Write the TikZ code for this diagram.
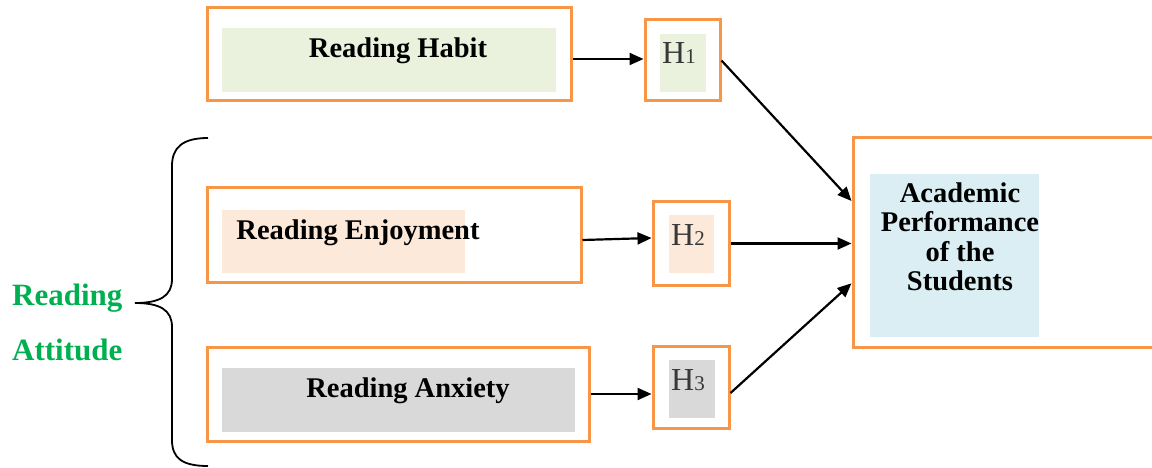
\documentclass[tikz,border=0pt]{standalone}
\usepackage{fontspec}
\setmainfont{Liberation Serif}
\usepackage{tikz}
\usetikzlibrary{arrows.meta}
\definecolor{boxline}{HTML}{F79646}
\definecolor{habitfill}{HTML}{EAF1DD}
\definecolor{enjoyfill}{HTML}{FDE9D9}
\definecolor{anxfill}{HTML}{D9D9D9}
\definecolor{acadfill}{HTML}{DAEEF3}
\definecolor{attgreen}{HTML}{00B050}
\newcommand{\hyp}[1]{H{\fontsize{21}{21}\selectfont #1}}

\begin{document}
\begin{tikzpicture}[
        x = 1pt, y = -1pt,
        box/.style = {draw=boxline, line width=3pt, inner sep=0pt},
        pad/.style = {inner sep=0pt},
        sized/.style 2 args = {minimum width=#1, minimum height=#2},
        lbl/.style = {anchor=base, inner sep=0pt, font=\fontsize{28.5}{30}\selectfont\bfseries},
        hlbl/.style = {anchor=base, inner sep=0pt, text=black!78, font=\fontsize{32}{32}\selectfont},
        arr/.style = {-{Triangle[length=14pt, width=12pt]}, line width=2.2pt},
    ]
        \useasboundingbox (0,0) rectangle (1152,468);
        % factors
        \node[box, sized={364pt}{93pt}] (habit) at (389,54.5) {};
        \node[pad, fill=habitfill, sized={334pt}{64pt}] (habitbg) at (389,60) {};
        \node[lbl] (habittxt) at (398,58) {Reading Habit};
        \node[box, sized={374pt}{94pt}] (enjoy) at (394,235) {};
        \node[pad, fill=enjoyfill, sized={243pt}{63pt}] (enjoybg) at (343.5,241.5) {};
        \node[lbl] (enjoytxt) at (358,240) {Reading Enjoyment};
        \node[box, sized={382pt}{94pt}] (anx) at (398,394) {};
        \node[pad, fill=anxfill, sized={353pt}{64pt}] (anxbg) at (398.5,400) {};
        \node[lbl] (anxtxt) at (408,397) {Reading Anxiety};
        % hypotheses
        \node[box, sized={75pt}{81pt}] (h1) at (682.5,60.5) {};
        \node[pad, fill=habitfill, sized={46pt}{58pt}] (h1bg) at (683,63) {};
        \node[hlbl] (h1txt) at (679,63.3) {\hyp{1}};
        \node[box, sized={76pt}{83pt}] (h2) at (691,243.5) {};
        \node[pad, fill=enjoyfill, sized={45pt}{58pt}] (h2bg) at (691.5,244) {};
        \node[hlbl] (h2txt) at (688,245) {\hyp{2}};
        \node[box, sized={76pt}{82pt}] (h3) at (691,387) {};
        \node[pad, fill=anxfill, sized={46pt}{58pt}] (h3bg) at (692,389) {};
        \node[hlbl] (h3txt) at (688,390.7) {\hyp{3}};
        % outcome
        \node[box, sized={310pt}{209pt}] (acad) at (1008,242.5) {};
        \node[pad, fill=acadfill, sized={169pt}{163pt}] (acadbg) at (954.5,255.5) {};
        \node[pad, align=center, font=\fontsize{28.5}{29.5}\selectfont\bfseries] (acadtxt) at (960,237)
            {Academic\\Performance\\of the\\Students};
        % arrows
        \draw[arr] ([yshift=-4.5pt]habit.east) -- ([yshift=-4.5pt]habit.east -| h1.west);
        \draw[arr] ([yshift=-5pt]enjoy.east) -- ([yshift=5.5pt]h2.west);
        \draw[arr] (anx.east) -- (anx.east -| h3.west);
        \draw[arr] (h1.east) -- ([yshift=41.5pt]acad.west);
        \draw[arr] (h2.east) -- (h2.east -| acad.west);
        \draw[arr] ([yshift=-6pt]h3.east) -- ([yshift=-40.8pt]acad.west);
        % brace
        \coordinate (bracetop) at (208,138);
        \coordinate (bracetip) at (135,303);
        \coordinate (bracebot) at (208,466);
        \draw[line width=1.8pt] (bracetop) .. controls (182,138) and (172,148) .. (172,166) -- (172,279)
            .. controls (172,296) and (160,303) .. (bracetip)
            .. controls (160,303) and (172,310) .. (172,327) -- (172,440)
            .. controls (172,458) and (182,466) .. (bracebot);
        \node[anchor=base west, inner sep=0pt, align=left, text=attgreen,
            font=\fontsize{31}{55.5}\selectfont\bfseries] (attitude) at (12,360.7) {Reading\\Attitude};
    \end{tikzpicture}
\end{document}
